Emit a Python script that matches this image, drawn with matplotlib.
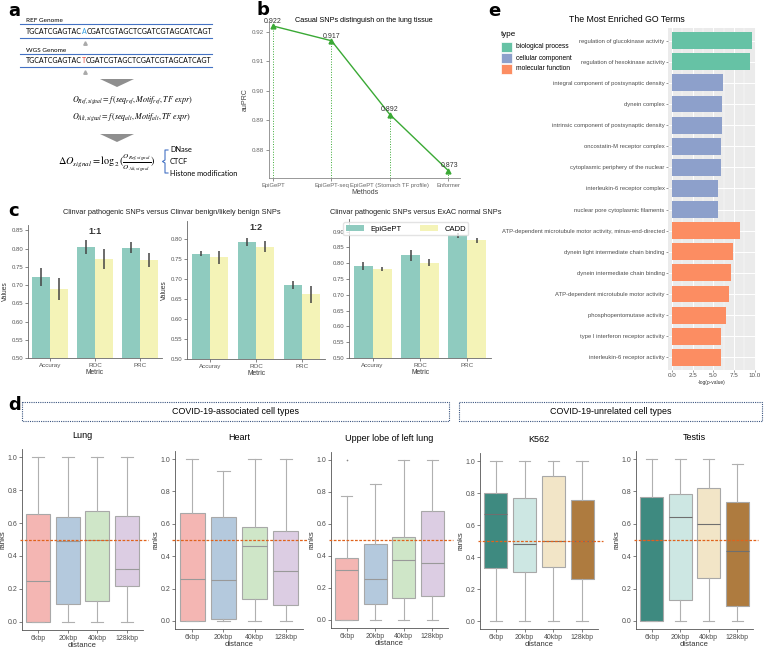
import matplotlib
matplotlib.use("Agg")
import matplotlib.pyplot as plt
from matplotlib.patches import Rectangle, Polygon
from matplotlib.offsetbox import TextArea, HPacker, AnnotationBbox

plt.rcParams["font.family"] = ["Liberation Sans", "DejaVu Sans"]
plt.rcParams["mathtext.fontset"] = "stix"

W, H = 768, 649

# ---- panel b data
b_methods = ["EpiGePT", "EpiGePT-seq", "EpiGePT (Stomach TF profile)", "Enformer"]
b_auprc = [0.922, 0.917, 0.892, 0.873]

# ---- panel c data
c_metrics = ["Accuray", "ROC", "PRC"]
c11_epi = [0.722, 0.805, 0.802]
c11_epi_err = [0.024, 0.019, 0.015]
c11_cadd = [0.690, 0.771, 0.769]
c11_cadd_err = [0.030, 0.028, 0.020]
c12_epi = [0.764, 0.793, 0.685]
c12_epi_err = [0.006, 0.010, 0.010]
c12_cadd = [0.755, 0.782, 0.662]
c12_cadd_err = [0.017, 0.013, 0.022]
cx_epi = [0.791, 0.825, 0.889]
cx_epi_err = [0.012, 0.018, 0.008]
cx_cadd = [0.782, 0.802, 0.873]
cx_cadd_err = [0.007, 0.012, 0.008]

# ---- panel d data (q1, median, q3, whisker low, whisker high)
d_dist = ["6kbp", "20kbp", "40kbp", "128kbp"]
lung_q1 = [0.0, 0.111, 0.126, 0.215]
lung_med = [0.247, 0.489, 0.50, 0.32]
lung_q3 = [0.655, 0.637, 0.675, 0.641]
lung_lo = [0.0, 0.0, 0.0, 0.0]
lung_hi = [1.0, 1.0, 1.0, 1.0]
heart_q1 = [0.0, 0.01, 0.136, 0.10]
heart_med = [0.262, 0.25, 0.46, 0.31]
heart_q3 = [0.665, 0.64, 0.578, 0.558]
heart_lo = [0.0, 0.0, 0.0, 0.0]
heart_hi = [1.0, 0.926, 1.0, 1.0]
upper_q1 = [0.0, 0.10, 0.1375, 0.15]
upper_med = [0.31, 0.254, 0.375, 0.358]
upper_q3 = [0.385, 0.475, 0.517, 0.68]
upper_lo = [0.0, 0.0, 0.0, 0.0]
upper_hi = [0.777, 0.85, 1.0, 1.0]
upper_out = [[1.0], [], [], []]
k562_q1 = [0.333, 0.304, 0.34, 0.265]
k562_med = [0.667, 0.481, 0.50, 0.50]
k562_q3 = [0.802, 0.771, 0.908, 0.754]
k562_lo = [0.0, 0.0, 0.0, 0.0]
k562_hi = [1.0, 1.0, 1.0, 1.0]
testis_q1 = [0.0, 0.13, 0.268, 0.093]
testis_med = [0.50, 0.64, 0.598, 0.429]
testis_q3 = [0.767, 0.786, 0.82, 0.736]
testis_lo = [0.0, 0.0, 0.0, 0.0]
testis_hi = [1.0, 1.0, 1.0, 0.967]

# ---- panel e data
go_terms = [
    "regulation of glucokinase activity",
    "regulation of hexokinase activity",
    "integral component of postsynaptic density",
    "dynein complex",
    "intrinsic component of postsynaptic density",
    "oncostatin-M receptor complex",
    "cytoplasmic periphery of the nuclear",
    "interleukin-6 receptor complex",
    "nuclear pore cytoplasmic filaments",
    "ATP-dependent microtubule motor activity, minus-end-directed",
    "dynein light intermediate chain binding",
    "dynein intermediate chain binding",
    "ATP-dependent microtubule motor activity",
    "phosphopentomutase activity",
    "type I interferon receptor activity",
    "interleukin-6 receptor activity",
]
go_values = [9.69, 9.44, 6.17, 6.09, 6.05, 5.93, 5.93, 5.52, 5.52,
             8.18, 7.38, 7.18, 6.90, 6.57, 5.88, 5.88]
go_types = ["biological process"] * 2 + ["cellular component"] * 7 + ["molecular function"] * 7
type_colors = {"biological process": "#66c2a5", "cellular component": "#8da0cb",
               "molecular function": "#fc8d62"}


def box(l, t, r, b):
    return [l / W, 1 - b / H, (r - l) / W, (b - t) / H]


fig = plt.figure(figsize=(W / 100, H / 100), dpi=100)

# overlay axes in pixel coordinates for schematic & labels (drawn on top)
ov = fig.add_axes([0, 0, 1, 1])
ov.set_zorder(10)
ov.set_xlim(0, W)
ov.set_ylim(H, 0)
ov.axis("off")

for lab, x, y in [("a", 8, 11), ("b", 256, 10), ("e", 488, 11), ("c", 8, 211), ("d", 8, 405)]:
    ov.text(x, y, lab, fontsize=13, fontweight="bold", ha="left", va="center",
            family=["DejaVu Sans"])

# ---------------- panel a (schematic)
blue = "#4472c4"
afont = ["Lato", "DejaVu Sans"]
seq_pre, seq_post = "TGCATCGAGTAC", "CGATCGTAGCTCGATCGTAGCATCAGT"
ov.text(26, 20, "REF Genome", fontsize=4.6, family=afont, va="center")
ov.text(26, 51, "WGS Genome", fontsize=4.6, family=afont, va="center")
for yy in [24, 38, 54, 67]:
    ov.plot([20, 212], [yy, yy], color=blue, lw=0.8)
for yy, mid, col in [(31.5, "A", "#2e9be0"), (60.5, "T", "#e03a2e")]:
    parts = [TextArea(seq_pre, textprops=dict(fontsize=5.0, family=afont)),
             TextArea(mid, textprops=dict(fontsize=5.0, family=afont, color=col)),
             TextArea(seq_post, textprops=dict(fontsize=5.0, family=afont))]
    pk = HPacker(children=parts, align="baseline", pad=0, sep=0)
    ov.add_artist(AnnotationBbox(pk, (26, yy), xycoords="data", box_alignment=(0, 0.5),
                                 frameon=False, pad=0))
ov.plot([85, 85], [43, 72], ls="none", marker="^", ms=2.5, color="#aaaaaa")
for yt in [79, 134]:
    ov.add_patch(Polygon([(100, yt), (134, yt), (117, yt + 8)], closed=True,
                         facecolor="#8f8f8f", edgecolor="none"))
ov.text(132, 100, r"$O_{Ref,signal} = f\,(seq_{ref}, Motif_{ref}, TF\ expr)$",
        fontsize=5.8, ha="center", va="center")
ov.text(132, 117, r"$O_{Alt,signal} = f\,(seq_{alt}, Motif_{alt}, TF\ expr)$",
        fontsize=5.8, ha="center", va="center")
ov.text(107, 163, r"$\Delta O_{signal} = \log_2(\frac{O_{Ref,signal}}{O_{Alt,signal}})$",
        fontsize=7.4, ha="center", va="center")
ov.plot([168, 165, 165, 162.5, 165, 165, 168], [150, 150, 160, 161.5, 163, 173, 173],
        color=blue, lw=0.8)
for txt, yy in [("DNase", 150), ("CTCF", 161.5), ("Histone modification", 173)]:
    ov.text(170, yy, txt, fontsize=5.3, family=afont, va="center")

# ---------------- panel b
green = "#3aa935"
axb = fig.add_axes(box(269, 21, 460, 178))
xb = list(range(len(b_methods)))
axb.set_ylim(0.8705, 0.9237)
axb.set_xlim(-0.07, 3.2)
axb.vlines(xb, 0.8705, b_auprc, colors=green, linestyles=":", lw=0.7)
axb.plot(xb, b_auprc, color=green, lw=1.0, marker="^", ms=3.5)
for x, v in zip(xb, b_auprc):
    axb.text(x + (0.02 if x == 3 else 0), v + 0.0004, f"{v:.3f}", fontsize=5, ha="center",
             va="bottom", color="#333333")
axb.set_xticks(xb)
axb.set_xticklabels(b_methods, fontsize=4.2, color="#444444")
axb.set_yticks([0.88, 0.89, 0.90, 0.91, 0.92])
axb.set_yticklabels(["0.88", "0.89", "0.90", "0.91", "0.92"], fontsize=4.5, color="#444444")
axb.tick_params(length=2, width=0.5, pad=1.5, colors="#666666")
for s in ["top", "right"]:
    axb.spines[s].set_visible(False)
for s in ["left", "bottom"]:
    axb.spines[s].set_color("#888888")
    axb.spines[s].set_linewidth(0.6)
axb.set_xlabel("Methods", fontsize=5, labelpad=1, color="#444444")
axb.set_ylabel("auPRC", fontsize=5, labelpad=2, color="#444444")
ov.text(364, 20, "Casual SNPs distinguish on the lung tissue", fontsize=5.2,
        ha="center", va="center")

# ---------------- panel c
teal, cream = "#8fcbbf", "#f4f3b7"


def bar_panel(pos, epi, epi_err, cad, cad_err, top, ticks, label=None, ylab=True):
    ax = fig.add_axes(pos)
    x = list(range(len(c_metrics)))
    ax.bar([i - 0.2 for i in x], epi, width=0.4, color=teal, label="EpiGePT")
    ax.bar([i + 0.2 for i in x], cad, width=0.4, color=cream, label="CADD")
    ax.errorbar([i - 0.2 for i in x], epi, yerr=epi_err, fmt="none", ecolor="#444444", elinewidth=1.1)
    ax.errorbar([i + 0.2 for i in x], cad, yerr=cad_err, fmt="none", ecolor="#444444", elinewidth=1.1)
    ax.set_ylim(0.5, top)
    ax.set_xlim(-0.5, 2.5)
    ax.set_yticks(ticks)
    ax.set_yticklabels([f"{t:.2f}" for t in ticks], fontsize=4.3, color="#444444")
    ax.set_xticks(x)
    ax.set_xticklabels(c_metrics, fontsize=4.5, color="#333333")
    ax.tick_params(length=2, width=0.5, pad=1.5, colors="#555555")
    for s in ["top", "right"]:
        ax.spines[s].set_visible(False)
    for s in ["left", "bottom"]:
        ax.spines[s].set_color("#666666")
        ax.spines[s].set_linewidth(0.6)
    ax.set_xlabel("Metric", fontsize=4.8, labelpad=0.5, color="#333333")
    if ylab:
        ax.set_ylabel("Values", fontsize=4.8, labelpad=2, color="#333333")
    if label:
        ax.text(0.5, 0.985, label, transform=ax.transAxes, fontsize=6.5, fontweight="bold",
                ha="center", va="top", color="#333333")
    return ax


t1 = [0.50 + 0.05 * i for i in range(8)]
t2 = [0.50 + 0.05 * i for i in range(7)]
t3 = [0.50 + 0.05 * i for i in range(9)]
bar_panel(box(28, 225, 162, 358), c11_epi, c11_epi_err, c11_cadd, c11_cadd_err, 0.865, t1, "1:1")
bar_panel(box(187, 221, 325, 359), c12_epi, c12_epi_err, c12_cadd, c12_cadd_err, 0.846, t2, "1:2")
ax3 = bar_panel(box(349, 219, 491, 358), cx_epi, cx_epi_err, cx_cadd, cx_cadd_err, 0.94, t3, ylab=False)
ax3.legend(loc="upper center", bbox_to_anchor=(0.4, 1.005), ncol=2, fontsize=5.5, frameon=True,
           handlelength=2.4, handleheight=0.9, columnspacing=2.4, borderpad=0.35,
           edgecolor="#dddddd", fancybox=True)
ov.text(172, 213, "Clinvar pathogenic SNPs versus Clinvar benign/likely benign SNPs",
        fontsize=5.3, ha="center", va="center", color="#222222")
ov.text(416, 213, "Clinvar pathogenic SNPs versus ExAC normal SNPs",
        fontsize=5.3, ha="center", va="center", color="#222222")

# ---------------- panel e
axe = fig.add_axes(box(668, 28, 756, 370))
axe.set_facecolor("#ebebeb")
ye = list(range(len(go_terms)))
axe.barh(ye, go_values, height=0.8, color=[type_colors[t] for t in go_types], zorder=3)
axe.set_xlim(-0.48, 10.17)
axe.set_ylim(len(go_terms) - 0.4, -0.6)
axe.set_xticks([0, 2.5, 5, 7.5, 10])
axe.set_xticklabels(["0.0", "2.5", "5.0", "7.5", "10.0"], fontsize=4.5, color="#4d4d4d")
axe.set_xticks([1.25, 3.75, 6.25, 8.75], minor=True)
axe.set_yticks(ye)
axe.set_yticklabels(go_terms, fontsize=4.2, color="#4d4d4d")
axe.grid(True, which="major", color="white", lw=0.7, zorder=0)
axe.grid(True, which="minor", axis="x", color="white", lw=0.35, zorder=0)
axe.set_axisbelow(True)
axe.tick_params(which="major", length=1.5, width=0.4, pad=1, colors="#4d4d4d")
axe.tick_params(which="minor", length=0)
for s in axe.spines.values():
    s.set_visible(False)
axe.set_xlabel("-log(p-value)", fontsize=3.5, labelpad=1, color="#333333")
ov.text(627, 20, "The Most Enriched GO Terms", fontsize=6.3, ha="center", va="center")
ov.text(501, 34, "type", fontsize=5.8, ha="left", va="center")
for i, t in enumerate(["biological process", "cellular component", "molecular function"]):
    yy = 47 + 11 * i
    ov.add_patch(Rectangle((501, yy - 5), 11, 10, facecolor=type_colors[t], edgecolor="white", lw=0.5))
    ov.text(516, yy, t, fontsize=4.8, ha="left", va="center")

# ---------------- panel d
pastel = ["#f4b6b3", "#b4c9dd", "#cfe6c8", "#dccde3"]
brbg = ["#3e8a80", "#cde7e3", "#f2e5c7", "#ae7b3f"]


def box_panel(pos, q1, med, q3, lo, hi, colors, title, outs=None, medc="#999999"):
    ax = fig.add_axes(pos)
    stats = []
    for i in range(len(d_dist)):
        stats.append(dict(med=med[i], q1=q1[i], q3=q3[i], whislo=lo[i], whishi=hi[i],
                          fliers=(outs[i] if outs else []), label=d_dist[i]))
    bp = ax.bxp(stats, positions=[1, 2, 3, 4], widths=0.8, patch_artist=True, capwidths=0.4,
                boxprops=dict(edgecolor="#a8a8a8", linewidth=0.8),
                medianprops=dict(color=medc, linewidth=0.8),
                whiskerprops=dict(color="#b0b0b0", linewidth=0.8),
                capprops=dict(color="#b0b0b0", linewidth=0.8),
                flierprops=dict(marker="o", ms=1.2, mfc="#888888", mec="none"))
    for patch, c in zip(bp["boxes"], colors):
        patch.set_facecolor(c)
    ax.axhline(0.5, color="#e0631c", ls=(0, (2.2, 1.2)), lw=0.9, zorder=5,
               xmin=-0.02, xmax=1.04, clip_on=False)
    ax.set_xlim(0.45, 4.55)
    ax.set_ylim(-0.05, 1.05)
    ax.set_yticks([0, 0.2, 0.4, 0.6, 0.8, 1.0])
    ax.set_yticklabels(["0.0", "0.2", "0.4", "0.6", "0.8", "1.0"], fontsize=5, color="#4d4d4d")
    ax.set_xticks([1, 2, 3, 4])
    ax.set_xticklabels(d_dist, fontsize=5, color="#4d4d4d")
    ax.tick_params(length=2, width=0.5, pad=1.5, colors="#4d4d4d")
    for s in ["top", "right"]:
        ax.spines[s].set_visible(False)
    for s in ["left", "bottom"]:
        ax.spines[s].set_color("#555555")
        ax.spines[s].set_linewidth(0.6)
    ax.set_xlabel("distance", fontsize=5.5, labelpad=0, color="#333333")
    ax.set_ylabel("ranks", fontsize=5.5, labelpad=0.5, color="#333333")
    ax.set_title(title, fontsize=6.5, pad=8)
    return ax


box_panel(box(22, 449, 143, 630), lung_q1, lung_med, lung_q3, lung_lo, lung_hi, pastel, "Lung")
box_panel(box(175, 451, 303, 629), heart_q1, heart_med, heart_q3, heart_lo, heart_hi, pastel, "Heart")
box_panel(box(331, 452, 448, 628), upper_q1, upper_med, upper_q3, upper_lo, upper_hi, pastel,
          "Upper lobe of left lung", outs=upper_out)
box_panel(box(480, 453, 598, 629), k562_q1, k562_med, k562_q3, k562_lo, k562_hi, brbg, "K562",
          medc="#6f6f6f")
box_panel(box(636, 451, 753, 629), testis_q1, testis_med, testis_q3, testis_lo, testis_hi, brbg,
          "Testis", medc="#6f6f6f")

hdr = "#3b5580"
for l, r, txt in [(22, 449, "COVID-19-associated cell types"), (459, 762, "COVID-19-unrelated cell types")]:
    ov.add_patch(Rectangle((l, 402), r - l, 19, fill=False, edgecolor=hdr, lw=0.8, ls=(0, (1, 1))))
    ov.text((l + r) / 2, 411.5, txt, fontsize=6.4, ha="center", va="center")

fig.savefig("out.png", dpi=100)
